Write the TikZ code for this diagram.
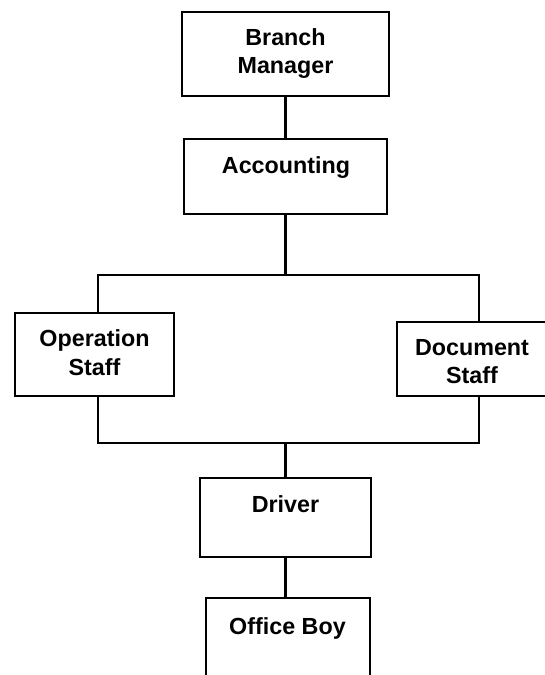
\documentclass[tikz,border=0pt]{standalone}
\usepackage{fontspec}
\setmainfont{Liberation Sans}
\begin{document}
\begin{tikzpicture}[x=1pt,y=-1pt,
  box/.style={draw=black,line width=2.2pt,fill=white,inner sep=0pt,rectangle},
  lbl/.style={font=\bfseries\fontsize{23.3}{28}\selectfont,inner sep=0pt,anchor=base,text=black},
  conn/.style={draw=black,line width=2.1pt}]
\useasboundingbox (0,0) rectangle (545,675);
\clip (0,0) rectangle (545,675);
% boxes
\node[box,minimum width=207pt,minimum height=84pt] (bm) at (285.5,54) {};
\node[box,minimum width=203pt,minimum height=75pt] (acc) at (285.5,176.5) {};
\node[box,minimum width=159pt,minimum height=83pt] (os) at (94.5,354.5) {};
\node[box,minimum width=150pt,minimum height=74pt] (ds) at (472,359) {};
\node[box,minimum width=171pt,minimum height=79pt] (dr) at (285.5,517.5) {};
\node[box,minimum width=164pt,minimum height=102pt] (ob) at (288,649) {};
% junctions
\coordinate (j1) at (285.5,275);
\coordinate (tl) at (98,275);
\coordinate (tr) at (479,275);
\coordinate (j2) at (285.5,443);
\coordinate (bl) at (98,443);
\coordinate (br) at (479,443);
% connectors
\draw[conn] (bm.south) -- (acc.north);
\draw[conn] (acc.south) -- (j1);
\draw[conn] (tl |- os.north) -- (tl) -- (tr) -- (tr |- ds.north);
\draw[conn] (bl |- os.south) -- (bl) -- (br) -- (br |- ds.south);
\draw[conn] (j2) -- (dr.north);
\draw[conn] (dr.south) -- (dr.south |- ob.north);
% labels
\node[lbl] (bmt1) at (285.5,45) {Branch};
\node[lbl] (bmt2) at (285.5,73) {Manager};
\node[lbl] (acct) at (286,173) {Accounting};
\node[lbl] (ost1) at (94.5,346) {Operation};
\node[lbl] (ost2) at (94.5,375) {Staff};
\node[lbl] (dst1) at (472,355) {Document};
\node[lbl] (dst2) at (472,383) {Staff};
\node[lbl] (drt) at (285.5,512) {Driver};
\node[lbl] (obt) at (287.5,634) {Office Boy};
\end{tikzpicture}
\end{document}
